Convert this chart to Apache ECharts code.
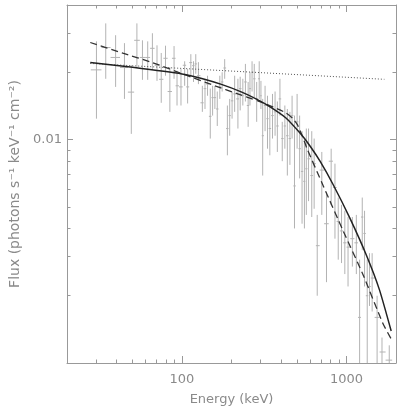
<!DOCTYPE html>
<html>
<head>
<meta charset="utf-8">
<script src="https://cdn.jsdelivr.net/npm/echarts@6/dist/echarts.min.js"></script>
<style>html,body{margin:0;padding:0;background:#fff;}#c{width:400px;height:411px;}</style>
</head>
<body>
<div id="c"></div>
<script>
// Energy bin centres (keV)
const energy = [30.2,34.4,39.5,44.7,49.2,53.2,57.5,61.9,66.1,70.5,
  74.8,79.4,84.4,89.5,93.3,98.6,103.8,108.2,113.2,117.5,
  121.3,125.9,133,138,143,148.6,153.5,158.5,163.9,169.8,
  175.5,181.8,188.8,195,201.6,209,218.8,225.9,234.4,243,
  252.5,259,266.7,275,284.5,294.8,302,309.5,320,331,
  342,355,368,380,394,407,422,437,453,467,
  483,501,519,537,555,570,588,615,636,664,
  708,756,807,851,891,933,977,1022,1086,1148,
  1202,1247,1288,1337,1380,1432,1535,1644,1820];
// Energy bin edges (keV), one more than centres
const edges = [27.9,32.4,36.8,42.0,46.9,51.2,55.4,59.7,64.0,68.2,
  72.6,77.1,81.8,86.9,91.4,95.9,101.1,106.0,110.6,115.3,
  119.3,123.5,129.5,135.5,140.6,145.8,151.0,156.0,161.1,166.7,
  172.6,178.6,185.4,191.9,198.2,205.1,213.7,222.2,230.0,238.8,
  247.7,255.9,263,271.1,279.9,289.7,298.5,305.5,315,326,
  336.5,348.3,361.4,374,387.3,400.9,415,429.5,444.6,460.3,
  475.3,491.7,510.5,528.4,545.8,562,579.4,603,626.6,651.6,
  687,731,780,827.5,871,912,955,1000,1054,1117,
  1175,1225,1267,1311,1357,1405,1483,1589,1729,1896];
// Flux (photons s^-1 keV^-1 cm^-2)
const flux = [0.0205,0.0258,0.0233,0.0210,0.0163,0.0278,0.0233,0.0233,0.0256,0.0215,
  0.0186,0.0231,0.0164,0.0231,0.0174,0.0172,0.0215,0.0172,0.0221,0.0214,
  0.0218,0.0193,0.0146,0.0169,0.0177,0.0127,0.0154,0.0154,0.0137,0.0172,
  0.0181,0.0209,0.0112,0.0128,0.0149,0.0160,0.0152,0.0169,0.0157,0.0181,
  0.0142,0.0169,0.0200,0.0187,0.0152,0.0187,0.0157,0.0104,0.0142,0.0124,
  0.0112,0.0128,0.0133,0.0115,0.0152,0.0101,0.0115,0.0104,0.0101,0.0128,
  0.0062,0.0120,0.0091,0.0072,0.0065,0.0074,0.0082,0.0069,0.0078,0.00335,
  0.0073,0.0042,0.0080,0.0061,0.0043,0.0039,0.00345,0.0033,0.0036,0.00345,
  0.0016,0.0045,0.0038,0.0020,0.0022,0.0024,0.0016,0.00112,0.00103];
const fluxLow = [0.0124,0.0187,0.0172,0.0152,0.0106,0.0209,0.0185,0.0185,0.0205,0.0183,
  0.0146,0.0193,0.0133,0.0187,0.0142,0.0142,0.0174,0.0145,0.0193,0.0181,
  0.0197,0.0177,0.0133,0.0137,0.0157,0.0101,0.0128,0.0137,0.0115,0.0152,
  0.0164,0.0187,0.0085,0.0104,0.0124,0.0133,0.0112,0.0135,0.0142,0.0148,
  0.0114,0.0142,0.0164,0.0155,0.0120,0.0152,0.0137,0.0069,0.0109,0.0091,
  0.0085,0.0101,0.0104,0.0088,0.0128,0.0080,0.0091,0.0069,0.0077,0.0101,
  0.0040,0.0091,0.0067,0.0042,0.0040,0.0046,0.0053,0.0045,0.0049,0.0020,
  0.0046,0.0023,0.0051,0.0036,0.0029,0.0028,0.0025,0.0022,0.0027,0.0025,
  0.0010,0.0032,0.0022,0.0010,0.0018,0.0017,0.0010,0.0010,0.0010];
const fluxHigh = [0.0275,0.0331,0.0293,0.0270,0.0215,0.0331,0.0278,0.0275,0.0299,0.0264,
  0.0244,0.0263,0.0211,0.0262,0.0203,0.0207,0.0224,0.0207,0.0241,0.0224,
  0.0241,0.0222,0.0174,0.0187,0.0193,0.0169,0.0174,0.0174,0.0164,0.0193,
  0.0200,0.0229,0.0142,0.0152,0.0164,0.0193,0.0187,0.0191,0.0187,0.0218,
  0.0181,0.0200,0.0224,0.0218,0.0181,0.0224,0.0183,0.0152,0.0174,0.0157,
  0.0142,0.0160,0.0164,0.0148,0.0187,0.0120,0.0142,0.0137,0.0133,0.0157,
  0.0128,0.0160,0.0128,0.0109,0.0101,0.0112,0.0112,0.0109,0.0101,0.0046,
  0.0088,0.0058,0.0091,0.0078,0.0055,0.0051,0.0048,0.0045,0.0045,0.0046,
  0.0029,0.0055,0.0048,0.0029,0.0031,0.0031,0.0020,0.0013,0.0012];

// Model curves
const solidE = [27.7,50.1,100,131.8,173.7,229,282,347,427,525,603,692,827.5,1047,1318,1585,1870];
const solidF = [0.02214,0.02104,0.01965,0.01877,0.01765,0.01635,0.01521,0.01394,0.01252,0.01063,0.00931,0.00798,0.00631,0.00446,0.00305,0.00213,0.00139];
const dashE = [27.7,43.7,66.1,107.1,162.1,213.7,293.8,361,427,470,503,547,575,724,955,1259,1660,1870];
const dashF = [0.02718,0.02436,0.0221,0.01935,0.01729,0.01609,0.01483,0.01394,0.01318,0.01246,0.01166,0.0101,0.00912,0.00618,0.0039,0.00249,0.00151,0.00128];
const dotE = [27.7,1700];
const dotF = [0.0219,0.0186];

// Tick positions
const xMajor = [100,1000];
const xMinor = [30,40,50,60,70,80,90,200,300,400,500,600,700,800,900];
const yMajor = [0.01];
const yMinor = [0.002,0.003,0.004,0.005,0.006,0.007,0.008,0.009,0.02,0.03];

const AX = '#999999';
const TXT = '#8a8a8a';
const FONT = 'DejaVu Sans';

function xAx(pos, vals, len, line, label) {
  return {
    type:'log', logBase:10, min:20, max:2000, position:pos, gridIndex:0,
    axisLine:{show:line, lineStyle:{color:AX, width:1}},
    axisTick:{show:true, inside:true, length:len, customValues:vals, lineStyle:{color:AX}},
    axisLabel: label ? {show:true, customValues:vals, color:TXT, fontSize:13, fontFamily:FONT, margin:10,
      formatter:(v)=>String(Math.round(v))} : {show:false},
    splitLine:{show:false}, minorTick:{show:false}
  };
}
function yAx(pos, vals, len, line, label) {
  return {
    type:'log', logBase:10, min:0.001, max:0.04, position:pos, gridIndex:0,
    axisLine:{show:line, lineStyle:{color:AX, width:1}},
    axisTick:{show:true, inside:true, length:len, customValues:vals, lineStyle:{color:AX}},
    axisLabel: label ? {show:true, customValues:vals, color:TXT, fontSize:13, fontFamily:FONT, margin:5,
      formatter:()=> '0.01'} : {show:false},
    splitLine:{show:false}, minorTick:{show:false}
  };
}

const xa0 = xAx('bottom', xMajor, 7, true, true);
xa0.name = 'Energy (keV)';
xa0.nameLocation = 'middle';
xa0.nameGap = 30;
xa0.nameTextStyle = {color:TXT, fontSize:13, fontFamily:FONT};
const ya0 = yAx('left', yMajor, 6, true, true);
ya0.name = 'Flux (photons s\u207B\u00B9 keV\u207B\u00B9 cm\u207B\u00B2)';
ya0.nameLocation = 'middle';
ya0.nameGap = 45;
ya0.nameTextStyle = {color:TXT, fontSize:14, fontFamily:FONT};

const bars = energy.map((e,i)=>[e, flux[i], edges[i], edges[i+1], fluxLow[i], fluxHigh[i]]);

const chart = echarts.init(document.getElementById('c'), null, {renderer:'canvas'});
chart.setOption({
  animation:false,
  backgroundColor:'#ffffff',
  grid:{left:63, top:5, width:333, height:362},
  xAxis:[xa0, xAx('bottom', xMinor, 3.5, false, false), xAx('top', xMajor, 7, true, false), xAx('top', xMinor, 3.5, false, false)],
  yAxis:[ya0, yAx('left', yMinor, 3.5, false, false), yAx('right', yMajor, 6, true, false), yAx('right', yMinor, 3.5, false, false)],
  series:[
    {
      type:'custom', xAxisIndex:0, yAxisIndex:0, clip:true,
      data:bars,
      encode:{x:0, y:1},
      renderItem:function(params, api){
        const e=api.value(0), f=api.value(1), el=api.value(2), eh=api.value(3), fl=api.value(4), fh=api.value(5);
        const c=api.coord([e,f]), l=api.coord([el,f]), r=api.coord([eh,f]), t=api.coord([e,fh]), b=api.coord([e,fl]);
        const st={stroke:'#b3b3b3', lineWidth:1};
        return {type:'group', children:[
          {type:'line', shape:{x1:l[0], y1:c[1], x2:r[0], y2:c[1]}, style:st},
          {type:'line', shape:{x1:c[0], y1:t[1], x2:c[0], y2:b[1]}, style:st}
        ]};
      }
    },
    {type:'line', xAxisIndex:0, yAxisIndex:0, data:dotE.map((e,i)=>[e,dotF[i]]), showSymbol:false, smooth:false,
      lineStyle:{color:'#555', width:1, type:[1,2]}, z:3},
    {type:'line', xAxisIndex:0, yAxisIndex:0, data:dashE.map((e,i)=>[e,dashF[i]]), showSymbol:false, smooth:0.2,
      lineStyle:{color:'#333', width:1.3, type:[7,4]}, z:4},
    {type:'line', xAxisIndex:0, yAxisIndex:0, data:solidE.map((e,i)=>[e,solidF[i]]), showSymbol:false, smooth:0.2,
      lineStyle:{color:'#222', width:1.5}, z:5}
  ]
});
</script>
</body>
</html>
